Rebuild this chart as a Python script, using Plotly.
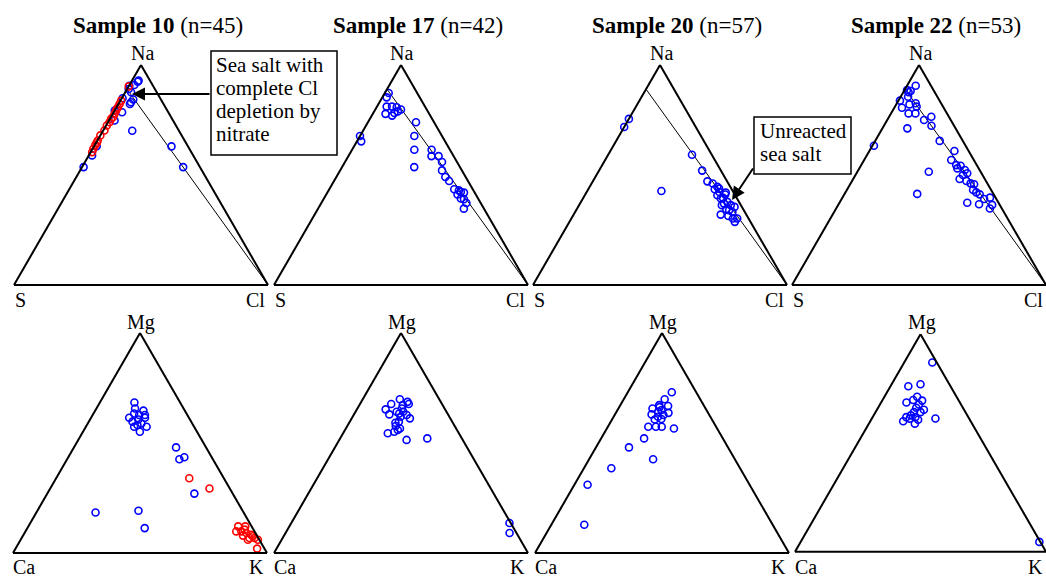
import plotly.graph_objects as go

PAGE_W, PAGE_H = 1046, 577
W, H = PAGE_W, PAGE_H
FONT = "Liberation Serif"
BLUE = "#0000FF"
RED = "#FF0000"

SAMPLES = ["Sample 10", "Sample 17", "Sample 20", "Sample 22"]
COUNTS = ["(n=45)", "(n=42)", "(n=57)", "(n=53)"]
TOP_LABELS = ["Na", "S", "Cl"]
BOTTOM_LABELS = ["Mg", "Ca", "K"]

# sea-salt reference line (Na, Cl fractions; S is the remainder)
SEA_LINE_NA = [0.89, 0.0]
SEA_LINE_CL = [0.0, 1.0]

# ---------- Top row: Na / S / Cl ----------
S10_TOP_BLUE_NA = [0.536, 0.589, 0.631, 0.701, 0.630, 0.536, 0.785, 0.793, 0.748, 0.849,
                   0.823, 0.843, 0.876, 0.909, 0.924, 0.929, 0.906, 0.891, 0.831]
S10_TOP_BLUE_CL = [0.006, 0.013, 0.010, 0.115, 0.305, 0.398, 0.033, 0.000, 0.022, 0.003,
                   0.045, 0.048, 0.023, 0.019, 0.025, 0.026, 0.001, 0.006, 0.045]
S10_TOP_RED_NA = [0.903, 0.838, 0.823, 0.808, 0.793, 0.778, 0.755, 0.740, 0.702, 0.680,
                  0.657, 0.637, 0.619, 0.604, 0.763, 0.725, 0.647, 0.801]
S10_TOP_RED_CL = [0.000, 0.003, 0.004, 0.005, 0.005, 0.007, 0.005, 0.006, 0.005, 0.000,
                  0.001, 0.002, 0.003, 0.006, 0.008, 0.003, 0.003, 0.005]

S17_TOP_NA = [0.873, 0.853, 0.811, 0.778, 0.811, 0.770, 0.808, 0.789, 0.798, 0.782,
              0.677, 0.653, 0.740, 0.677, 0.615, 0.536, 0.615, 0.586, 0.586, 0.559,
              0.521, 0.491, 0.473, 0.435, 0.411, 0.423, 0.420, 0.393, 0.390, 0.373,
              0.347, 0.430]
S17_TOP_CL = [0.015, 0.017, 0.038, 0.050, 0.059, 0.080, 0.079, 0.093, 0.101, 0.083,
              0.000, 0.017, 0.189, 0.214, 0.245, 0.284, 0.313, 0.327, 0.355, 0.382,
              0.401, 0.429, 0.453, 0.492, 0.517, 0.524, 0.538, 0.539, 0.553, 0.571,
              0.574, 0.513]

S20_TOP_NA = [0.755, 0.718, 0.427, 0.592, 0.520, 0.471, 0.461, 0.435, 0.446, 0.423,
              0.396, 0.420, 0.393, 0.408, 0.363, 0.320, 0.344, 0.340, 0.314, 0.332,
              0.355, 0.302, 0.287, 0.302, 0.378, 0.370, 0.363, 0.438, 0.411]
S20_TOP_CL = [0.000, 0.000, 0.292, 0.330, 0.406, 0.451, 0.477, 0.498, 0.503, 0.522,
              0.550, 0.549, 0.543, 0.522, 0.562, 0.579, 0.589, 0.602, 0.612, 0.619,
              0.616, 0.636, 0.651, 0.653, 0.576, 0.567, 0.597, 0.514, 0.551]

S22_TOP_NA = [0.906, 0.886, 0.876, 0.882, 0.856, 0.838, 0.806, 0.821, 0.826, 0.811,
              0.780, 0.780, 0.712, 0.633, 0.750, 0.765, 0.724, 0.655, 0.609, 0.568,
              0.545, 0.542, 0.530, 0.523, 0.508, 0.500, 0.482, 0.473, 0.462, 0.458,
              0.432, 0.421, 0.412, 0.391, 0.397, 0.364, 0.348, 0.367, 0.374, 0.515,
              0.414]
S22_TOP_CL = [0.034, 0.010, 0.021, 0.026, 0.029, 0.006, 0.030, 0.052, 0.074, 0.085,
              0.069, 0.096, 0.098, 0.006, 0.145, 0.166, 0.187, 0.254, 0.335, 0.343,
              0.374, 0.393, 0.386, 0.419, 0.436, 0.423, 0.419, 0.450, 0.472, 0.488,
              0.497, 0.515, 0.533, 0.561, 0.581, 0.606, 0.605, 0.553, 0.503, 0.281,
              0.286]

# ---------- Bottom row: Mg / Ca / K ----------
S10_BOT_BLUE_MG = [0.684, 0.657, 0.634, 0.647, 0.615, 0.607, 0.615, 0.627, 0.574, 0.574,
                   0.551, 0.627, 0.597, 0.589, 0.582, 0.480, 0.435, 0.426, 0.270, 0.184,
                   0.192, 0.113]
S10_BOT_BLUE_K = [0.136, 0.152, 0.160, 0.190, 0.150, 0.190, 0.212, 0.206, 0.190, 0.239,
                  0.224, 0.183, 0.172, 0.211, 0.199, 0.402, 0.457, 0.442, 0.579, 0.233,
                  0.398, 0.462]
S10_BOT_RED_MG = [0.340, 0.293, 0.121, 0.121, 0.098, 0.098, 0.091, 0.079, 0.083, 0.068,
                  0.068, 0.060, 0.060, 0.020, 0.106, 0.076]
S10_BOT_RED_K = [0.524, 0.627, 0.826, 0.854, 0.830, 0.850, 0.873, 0.866, 0.896, 0.897,
                 0.917, 0.895, 0.934, 0.951, 0.859, 0.906]

S17_BOT_MG = [0.699, 0.677, 0.653, 0.630, 0.642, 0.672, 0.687, 0.677, 0.657, 0.642,
              0.627, 0.612, 0.592, 0.597, 0.577, 0.566, 0.559, 0.551, 0.544, 0.514,
              0.521, 0.136, 0.091, 0.634, 0.619]
S17_BOT_K = [0.146, 0.123, 0.113, 0.139, 0.162, 0.171, 0.182, 0.192, 0.175, 0.188,
             0.209, 0.229, 0.182, 0.193, 0.191, 0.213, 0.208, 0.198, 0.176, 0.265,
             0.343, 0.859, 0.882, 0.176, 0.189]

S20_BOT_MG = [0.731, 0.699, 0.672, 0.657, 0.668, 0.650, 0.642, 0.637, 0.630, 0.627,
              0.607, 0.609, 0.574, 0.574, 0.574, 0.566, 0.521, 0.480, 0.426, 0.385,
              0.310, 0.128, 0.663, 0.619]
S20_BOT_K = [0.173, 0.161, 0.153, 0.134, 0.190, 0.173, 0.164, 0.207, 0.144, 0.192,
             0.168, 0.193, 0.159, 0.189, 0.212, 0.264, 0.169, 0.130, 0.252, 0.108,
             0.052, 0.130, 0.159, 0.175]

S22_BOT_MG = [0.870, 0.761, 0.770, 0.713, 0.698, 0.695, 0.686, 0.677, 0.662, 0.653,
              0.642, 0.642, 0.627, 0.619, 0.612, 0.607, 0.589, 0.600, 0.613, 0.045,
              0.619]
S22_BOT_K = [0.112, 0.071, 0.115, 0.130, 0.122, 0.159, 0.101, 0.155, 0.152, 0.187,
             0.179, 0.153, 0.148, 0.134, 0.151, 0.187, 0.183, 0.131, 0.253, 0.951,
             0.170]


# ---------- layout helpers (page pixel -> paper) ----------
def px(x):
    return x / W


def py(y):
    return 1 - y / H


TOP_X = [(14, 268), (274, 528), (533, 787), (792, 1046)]
BOT_X = [(13, 267), (274, 528), (535, 789), (795, 1046)]
TOP_Y = (285, 65)
BOT_Y = (553, 333)

MARKER = dict(symbol="circle-open", size=7, line=dict(width=1.6))

fig = go.Figure()


def add_points(sub, a, c, color):
    fig.add_trace(go.Scatterternary(
        a=a, c=c, mode="markers", subplot=sub, cliponaxis=False,
        marker=dict(color=color, **MARKER), hoverinfo="skip"))


top_sets = [
    [(S10_TOP_BLUE_NA, S10_TOP_BLUE_CL, BLUE), (S10_TOP_RED_NA, S10_TOP_RED_CL, RED)],
    [(S17_TOP_NA, S17_TOP_CL, BLUE)],
    [(S20_TOP_NA, S20_TOP_CL, BLUE)],
    [(S22_TOP_NA, S22_TOP_CL, BLUE)],
]
bot_sets = [
    [(S10_BOT_BLUE_MG, S10_BOT_BLUE_K, BLUE), (S10_BOT_RED_MG, S10_BOT_RED_K, RED)],
    [(S17_BOT_MG, S17_BOT_K, BLUE)],
    [(S20_BOT_MG, S20_BOT_K, BLUE)],
    [(S22_BOT_MG, S22_BOT_K, BLUE)],
]

for i in range(4):
    sub = "ternary" if i == 0 else f"ternary{i + 1}"
    fig.add_trace(go.Scatterternary(
        a=SEA_LINE_NA, c=SEA_LINE_CL, mode="lines", subplot=sub,
        line=dict(color="black", width=1), hoverinfo="skip"))
    for a, c, col in top_sets[i]:
        add_points(sub, a, c, col)
for i in range(4):
    sub = f"ternary{i + 5}"
    for a, c, col in bot_sets[i]:
        add_points(sub, a, c, col)

axis = dict(showgrid=False, showticklabels=False, ticks="", showline=True,
            linecolor="black", linewidth=2, title=dict(text=""))

layout = dict(width=W, height=H, margin=dict(l=0, r=0, t=0, b=0),
              paper_bgcolor="white", plot_bgcolor="white", showlegend=False,
              font=dict(family=FONT, color="black"))

annotations = []
shapes = []


def label(text, x, y, size=20):
    annotations.append(dict(text=text, x=px(x), y=py(y), xref="paper", yref="paper",
                            showarrow=False, xanchor="center", yanchor="middle",
                            font=dict(family=FONT, size=size, color="black")))


for i in range(4):
    x0, x1 = TOP_X[i]
    key = "ternary" if i == 0 else f"ternary{i + 1}"
    layout[key] = dict(domain=dict(x=[px(x0), min(1, px(x1))], y=[py(TOP_Y[0]), py(TOP_Y[1])]),
                       sum=1, bgcolor="white", aaxis=axis, baxis=axis, caxis=axis)
    xm = (x0 + x1) / 2
    label(TOP_LABELS[0], xm + 1, 53)
    label(TOP_LABELS[1], x0 + 6, 300)
    label(TOP_LABELS[2], min(x1 - 13, 1036), 300)
    annotations.append(dict(text=f"<b>{SAMPLES[i]}</b> {COUNTS[i]}", x=px(xm + 17), y=py(26),
                            xref="paper", yref="paper", showarrow=False,
                            xanchor="center", yanchor="middle",
                            font=dict(family=FONT, size=23, color="black")))

for i in range(4):
    x0, x1 = BOT_X[i]
    key = f"ternary{i + 5}"
    layout[key] = dict(domain=dict(x=[px(x0), min(1, px(x1))], y=[py(BOT_Y[0]), py(BOT_Y[1])]),
                       sum=1, bgcolor="white", aaxis=axis, baxis=axis, caxis=axis)
    xm = (x0 + x1) / 2
    label(BOTTOM_LABELS[0], xm + 1, 322)
    label(BOTTOM_LABELS[1], x0 + 11, 567)
    label(BOTTOM_LABELS[2], min(x1 - 11, 1037), 567)

# callout boxes
BOX1_LINES = ["Sea salt with", "complete Cl", "depletion by", "nitrate"]
BOX2_LINES = ["Unreacted", "sea salt"]

shapes.append(dict(type="rect", xref="paper", yref="paper", x0=px(211), x1=px(337),
                   y0=py(155), y1=py(51), line=dict(color="black", width=1.5),
                   fillcolor="white", layer="above"))
shapes.append(dict(type="rect", xref="paper", yref="paper", x0=px(754), x1=px(851),
                   y0=py(174), y1=py(117), line=dict(color="black", width=1.5),
                   fillcolor="white", layer="above"))

for k, t in enumerate(BOX1_LINES):
    annotations.append(dict(text=t, x=px(214), y=py(65 + 23 * k), xref="paper", yref="paper",
                            showarrow=False, xanchor="left", yanchor="middle",
                            font=dict(family=FONT, size=21, color="black")))
for k, t in enumerate(BOX2_LINES):
    annotations.append(dict(text=t, x=px(758), y=py(131 + 23 * k), xref="paper", yref="paper",
                            showarrow=False, xanchor="left", yanchor="middle",
                            font=dict(family=FONT, size=21, color="black")))

# arrows
annotations.append(dict(text="", x=px(132), y=py(94), xref="paper", yref="paper",
                        showarrow=True, ax=79, ay=0, arrowhead=2, arrowsize=1.3,
                        arrowwidth=2, arrowcolor="black"))
annotations.append(dict(text="", x=px(732), y=py(200), xref="paper", yref="paper",
                        showarrow=True, ax=22, ay=-33, arrowhead=2, arrowsize=1.3,
                        arrowwidth=2, arrowcolor="black"))

layout["annotations"] = annotations
layout["shapes"] = shapes
fig.update_layout(**layout)

# remove the browser's default page margin so the figure fills the window exactly
fig.write_html("out.html",
               config={"displayModeBar": False},
               post_script="document.body.style.margin='0';document.body.style.overflow='hidden';")
